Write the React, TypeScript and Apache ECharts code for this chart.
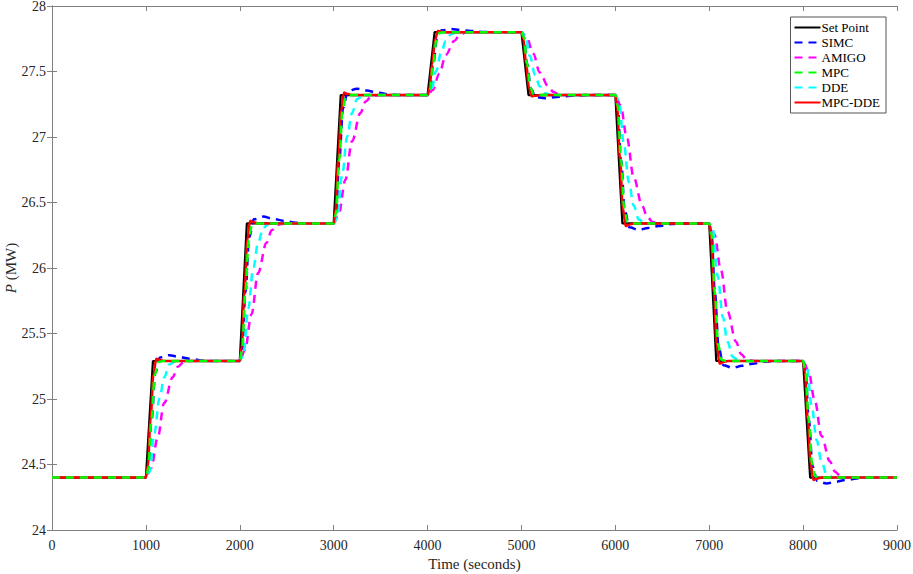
import React, { useEffect, useRef } from "react";
import * as echarts from "echarts";

// Set-point levels (MW) between steps, and the times of the steps (s)
const levels = [24.4, 25.29, 26.34, 27.32, 27.8, 27.32, 26.34, 25.29, 24.4];
const stepTimes = [1000, 2000, 3000, 4000, 5000, 6000, 7000, 8000];
const endTime = 9000;

// Step responses: [seconds after step, fraction of the step]
const setPointProfile = [[0, 0], [75, 1]];
const simcProfile = [[0, 0], [25, 0.08], [60, 0.5], [100, 0.9], [150, 1.03], [250, 1.05], [350, 1.035], [460, 1.02], [600, 1.005], [700, 1.0]];
const amigoProfile = [[0, 0], [55, 0.08], [125, 0.34], [195, 0.64], [285, 0.86], [340, 0.95], [400, 0.99], [480, 1.0]];
const mpcProfile = [[0, 0], [25, 0.08], [60, 0.5], [95, 0.88], [130, 0.99], [180, 1.0]];
const ddeProfile = [[0, 0], [40, 0.05], [90, 0.38], [145, 0.68], [195, 0.86], [250, 0.97], [320, 1.0]];
const mpcDdeProfile = [[0, 0], [20, 0.1], [50, 0.5], [80, 0.88], [110, 1.02], [140, 1.01], [200, 1.0]];

const legendNames = ["Set Point", "SIMC", "AMIGO", "MPC", "DDE", "MPC-DDE"];

function buildSeriesData(profile: number[][]) {
  const pts: number[][] = [[0, levels[0]]];
  stepTimes.forEach((t0, i) => {
    const a = levels[i];
    const b = levels[i + 1];
    profile.forEach(([dt, f]) => pts.push([t0 + dt, a + (b - a) * f]));
  });
  pts.push([endTime, levels[levels.length - 1]]);
  return pts;
}

const FONT = "Liberation Serif";

export default function App() {
  const ref = useRef<HTMLDivElement>(null);
  useEffect(() => {
    if (!ref.current) return;
    const chart = echarts.init(ref.current, undefined, { renderer: "svg" });
    const axisGray = "#808080";
    const dash = [8, 6];
    const mk = (name: string, profile: number[][], color: string, dashed: boolean, width: number, z: number, smooth: boolean) => ({
      name,
      type: "line",
      data: buildSeriesData(profile),
      showSymbol: false,
      symbol: "none",
      smooth: smooth ? 0.35 : false,
      smoothMonotone: "x",
      z,
      lineStyle: { color, width, type: dashed ? dash : "solid" },
      itemStyle: { color },
    });
    const plainLabel = (v: number) => String(v);
    chart.setOption({
      animation: false,
      backgroundColor: "#ffffff",
      grid: { left: 52, right: 16, top: 6, bottom: 44, containLabel: false, outerBoundsMode: "none" },
      legend: {
        data: legendNames,
        orient: "vertical",
        right: 27,
        top: 17,
        itemWidth: 26,
        itemHeight: 14,
        itemGap: 2,
        padding: [4, 6, 4, 3],
        borderColor: "#555555",
        borderWidth: 1,
        backgroundColor: "#ffffff",
        itemStyle: { opacity: 0 },
        textStyle: { fontFamily: FONT, fontSize: 13, color: "#000000", padding: [0, 0, 0, -4] },
      },
      graphic: [
        {
          type: "text",
          x: 11,
          y: 268,
          rotation: Math.PI / 2,
          style: {
            text: "{i|P} (MW)",
            align: "center",
            verticalAlign: "middle",
            fill: "#262626",
            font: `15px ${FONT}`,
            rich: { i: { fontFamily: FONT, fontSize: 15, fontStyle: "italic", fill: "#262626" } },
          },
        },
      ],
      xAxis: [
        {
          type: "value",
          min: 0,
          max: 9000,
          interval: 1000,
          name: "Time (seconds)",
          nameLocation: "middle",
          nameGap: 26,
          nameTextStyle: { fontFamily: FONT, fontSize: 15, color: "#262626" },
          axisLine: { show: true, lineStyle: { color: axisGray, width: 1 } },
          axisTick: { show: true, inside: true, length: 5, lineStyle: { color: axisGray } },
          axisLabel: { fontFamily: FONT, fontSize: 14, color: "#262626", margin: 8, formatter: plainLabel },
          splitLine: { show: false },
        },
        {
          type: "value",
          position: "top",
          min: 0,
          max: 9000,
          interval: 1000,
          axisLine: { show: true, lineStyle: { color: axisGray, width: 1 } },
          axisTick: { show: true, inside: true, length: 5, lineStyle: { color: axisGray } },
          axisLabel: { show: false },
          splitLine: { show: false },
        },
      ],
      yAxis: [
        {
          type: "value",
          min: 24,
          max: 28,
          interval: 0.5,
          axisLine: { show: true, lineStyle: { color: axisGray, width: 1 } },
          axisTick: { show: true, inside: true, length: 5, lineStyle: { color: axisGray } },
          axisLabel: { fontFamily: FONT, fontSize: 14, color: "#262626", margin: 6, formatter: plainLabel },
          splitLine: { show: false },
        },
        {
          type: "value",
          position: "right",
          min: 24,
          max: 28,
          interval: 0.5,
          axisLine: { show: true, lineStyle: { color: axisGray, width: 1 } },
          axisTick: { show: true, inside: true, length: 5, lineStyle: { color: axisGray } },
          axisLabel: { show: false },
          splitLine: { show: false },
        },
      ],
      series: [
        mk("Set Point", setPointProfile, "#000000", false, 2.2, 1, false),
        mk("SIMC", simcProfile, "#0000ff", true, 2.5, 2, true),
        mk("AMIGO", amigoProfile, "#ff00ff", true, 2.5, 3, true),
        mk("DDE", ddeProfile, "#00ffff", true, 2.5, 4, true),
        mk("MPC-DDE", mpcDdeProfile, "#ff0000", false, 2.5, 5, true),
        mk("MPC", mpcProfile, "#00ff00", true, 2.5, 6, true),
      ],
    });
    return () => chart.dispose();
  }, []);
  return <div ref={ref} style={{ width: 913, height: 574, position: "absolute", left: 0, top: 0 }} />;
}
